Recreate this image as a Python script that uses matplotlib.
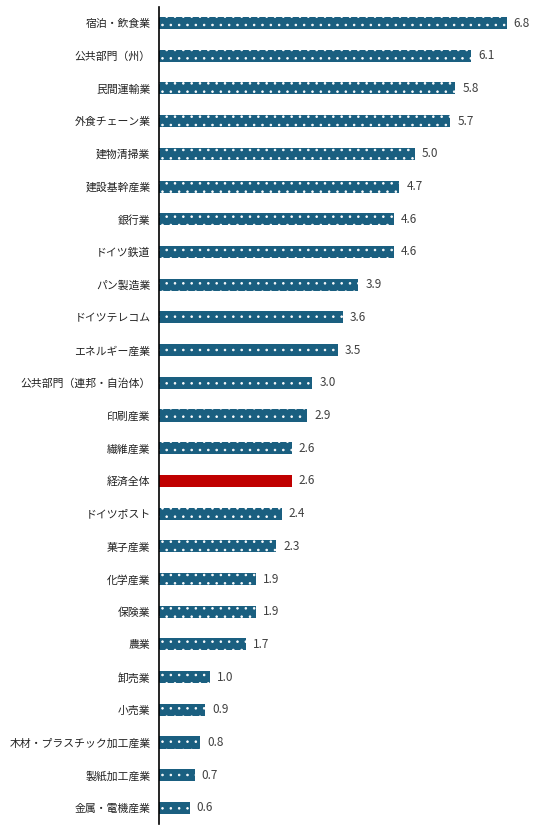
import matplotlib
matplotlib.use("Agg")
import matplotlib.pyplot as plt

plt.rcParams["font.family"] = ["Noto Sans CJK JP", "DejaVu Sans"]
plt.rcParams["hatch.linewidth"] = 0.6

categories = [
    "宿泊・飲食業", "公共部門（州）", "民間運輸業", "外食チェーン業", "建物清掃業",
    "建設基幹産業", "銀行業", "ドイツ鉄道", "パン製造業", "ドイツテレコム",
    "エネルギー産業", "公共部門（連邦・自治体）", "印刷産業", "繊維産業", "経済全体",
    "ドイツポスト", "菓子産業", "化学産業", "保険業", "農業",
    "卸売業", "小売業", "木材・プラスチック加工産業", "製紙加工産業", "金属・電機産業",
]
values = [6.8, 6.1, 5.8, 5.7, 5.0, 4.7, 4.6, 4.6, 3.9, 3.6, 3.5, 3.0, 2.9, 2.6, 2.6,
          2.4, 2.3, 1.9, 1.9, 1.7, 1.0, 0.9, 0.8, 0.7, 0.6]
highlight = "経済全体"

fig = plt.figure(figsize=(5.44, 8.36), dpi=100)
ax = fig.add_axes([0.292, 0.014, 0.658, 0.978])

for i, (cat, v) in enumerate(zip(categories, values)):
    if cat == highlight:
        ax.barh(i, v, height=0.37, color="#c00000", linewidth=0)
    else:
        ax.barh(i, v, height=0.37, color="#1a5f80", edgecolor="white",
                hatch="..", linewidth=0)
    ax.text(v + 0.14, i, f"{v:.1f}", va="center", ha="left",
            fontsize=8.5, color="#404040")

ax.set_ylim(len(categories) - 0.5, -0.5)
ax.set_xlim(0, 7.0)
ax.set_yticks(range(len(categories)))
ax.set_yticklabels(categories, fontsize=7.8, color="#222222")
ax.set_xticks([])
ax.tick_params(axis="y", length=0, pad=6)
for s in ["top", "right", "bottom"]:
    ax.spines[s].set_visible(False)
ax.spines["left"].set_color("black")
ax.spines["left"].set_linewidth(1.2)

fig.savefig("out.png", dpi=100)
